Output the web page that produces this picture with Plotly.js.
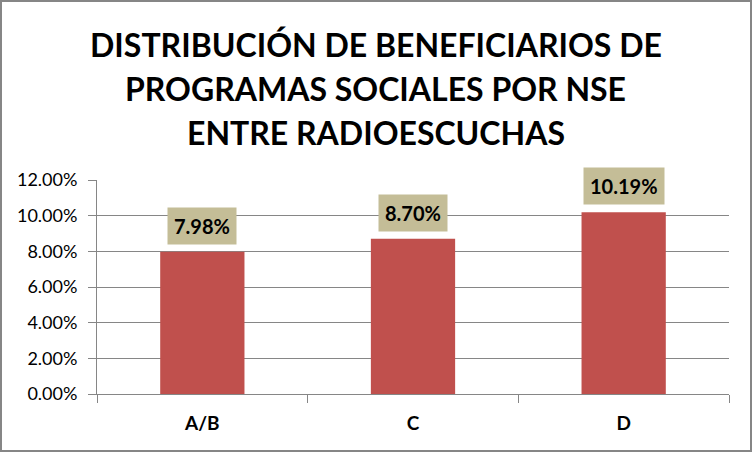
<!DOCTYPE html>
<html>
<head>
<meta charset="utf-8">
<script src="https://cdn.plot.ly/plotly-3.0.1.min.js"></script>
<style>
  body { margin: 0; background: #fff; }
  #chart { width: 748px; height: 448px; border: 2px solid #868686; }
</style>
</head>
<body>
<div id="chart"></div>
<script>
// NSE categories and share of social programme beneficiaries
var categories = ["A/B", "C", "D"];
var shares = [0.0798, 0.0870, 0.1019];
var titleLines = ["DISTRIBUCIÓN DE BENEFICIARIOS DE", "PROGRAMAS SOCIALES POR NSE", "ENTRE RADIOESCUCHAS"];

var FONT = "Lato, 'Open Sans', sans-serif";
var GRID = "#868686";

var trace = {
    x: categories,
    y: shares,
    type: "bar",
    width: 0.4,
    marker: { color: "#C0504D" },
    hoverinfo: "none",
};

var notes = [];

// title, one line per annotation, centred on the whole chart (not the plot area)
var titleX = 0.441;
var titleY = [1.631, 1.428, 1.222];
for (var t = 0; t < titleLines.length; t++) {
    notes.push({
        x: titleX,
        y: titleY[t],
        xref: "paper",
        yref: "paper",
        xanchor: "center",
        yanchor: "middle",
        showarrow: false,
        text: titleLines[t],
        font: { family: FONT, size: 32, color: "#000", weight: "bold" },
    });
}

// value labels on a tan box above each bar
for (var i = 0; i < categories.length; i++) {
    notes.push({
        x: categories[i],
        y: shares[i],
        xref: "x",
        yref: "y",
        yanchor: "bottom",
        yshift: 7,
        showarrow: false,
        text: (shares[i] * 100).toFixed(2) + "%",
        font: { family: FONT, size: 20, color: "#000", weight: "bold" },
        bgcolor: "#C4BD97",
        borderpad: 6,
    });
}

var layout = {
    width: 748,
    height: 448,
    margin: { l: 95, r: 21, t: 178, b: 56 },
    paper_bgcolor: "#fff",
    plot_bgcolor: "#fff",
    showlegend: false,
    xaxis: {
        type: "category",
        showline: true,
        linecolor: GRID,
        linewidth: 1,
        ticks: "outside",
        tickson: "boundaries",
        ticklen: 8,
        tickcolor: GRID,
        ticklabelstandoff: 12,
        tickfont: { family: FONT, size: 19, color: "#000", weight: "bold" },
        showgrid: false,
        fixedrange: true,
    },
    yaxis: {
        range: [0, 0.12],
        dtick: 0.02,
        tickformat: ".2%",
        showline: true,
        linecolor: GRID,
        linewidth: 1,
        ticks: "outside",
        ticklen: 8,
        tickcolor: GRID,
        ticklabelstandoff: 7,
        showgrid: true,
        gridcolor: GRID,
        gridwidth: 1,
        zeroline: false,
        tickfont: { family: FONT, size: 18, color: "#000" },
        fixedrange: true,
    },
    annotations: notes,
};

Plotly.newPlot("chart", [trace], layout, { displayModeBar: false, staticPlot: true });
</script>
</body>
</html>
